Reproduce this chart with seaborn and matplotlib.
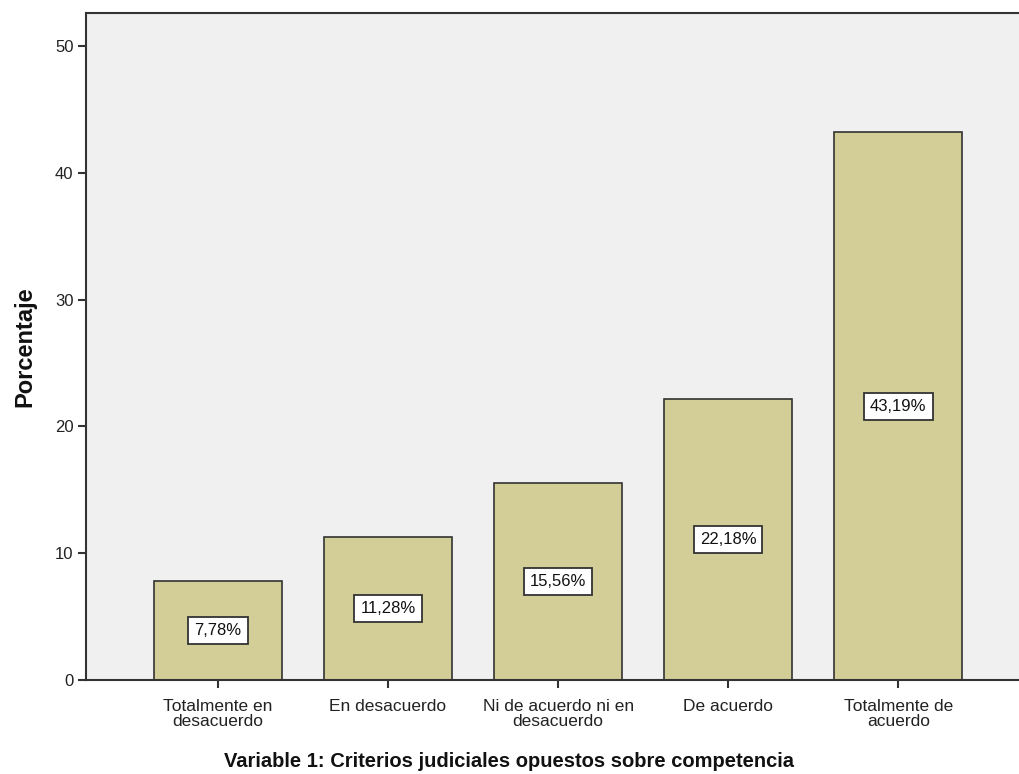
'''Bar chart: Variable 1 - Criterios judiciales opuestos sobre competencia'''

import pandas as pd
import matplotlib
matplotlib.use("Agg")
import matplotlib.pyplot as plt
import seaborn as sns

# data
categorias = ['Totalmente en\ndesacuerdo', 'En desacuerdo', 'Ni de acuerdo ni en\ndesacuerdo',
              'De acuerdo', 'Totalmente de\nacuerdo']
porcentajes = [7.78, 11.28, 15.56, 22.18, 43.19]
yticks = [0, 10, 20, 30, 40, 50]

df = pd.DataFrame({'categoria': categorias, 'porcentaje': porcentajes})

sns.set_style('white')
plt.rcParams['font.family'] = ['Liberation Sans', 'DejaVu Sans']

fig = plt.figure(figsize=(10.19, 7.74), dpi=100)
ax = fig.add_axes([0.0844, 0.1214, 0.9156, 0.862])
ax.set_facecolor('#F0F0F0')

sns.barplot(data=df, x='categoria', y='porcentaje', color='#D3CE98', saturation=1,
            width=0.753, edgecolor='#333333', linewidth=1.2, ax=ax)

# value labels in the middle of each bar
for i, v in enumerate(porcentajes):
    ax.text(i, v / 2, f'{v:.2f}%'.replace('.', ','), ha='center', va='center', fontsize=12,
            color='#111111',
            bbox=dict(boxstyle='square,pad=0.36', facecolor='white', edgecolor='#333333', linewidth=1.3))

ax.set_xlim(-0.776, 4.71)
ax.set_ylim(0, 52.6)
ax.set_yticks(yticks)
ax.tick_params(axis='y', labelsize=12, length=6, width=1.5, color='#333333', direction='out',
               left=True, pad=3, labelcolor='#222222')
ax.tick_params(axis='x', labelsize=12.5, length=6, width=1.5, color='#333333', direction='out',
               bottom=True, pad=8, labelcolor='#222222')
for lbl in ax.get_xticklabels():
    lbl.set_linespacing(1.0)

for side in ['left', 'top', 'bottom']:
    ax.spines[side].set_color('#333333')
    ax.spines[side].set_linewidth(1.5)
ax.spines['right'].set_visible(False)

ax.set_ylabel('Porcentaje', fontsize=17, fontweight='bold', labelpad=13, color='#111111')
ax.set_xlabel('')
# the title sits centred on the whole figure, not on the axes
fig.text(0.5, 1 - 767 / 774, 'Variable 1: Criterios judiciales opuestos sobre competencia',
         ha='center', va='baseline', fontsize=14.5, fontweight='bold', color='#111111')

fig.savefig('out.png', dpi=100)
